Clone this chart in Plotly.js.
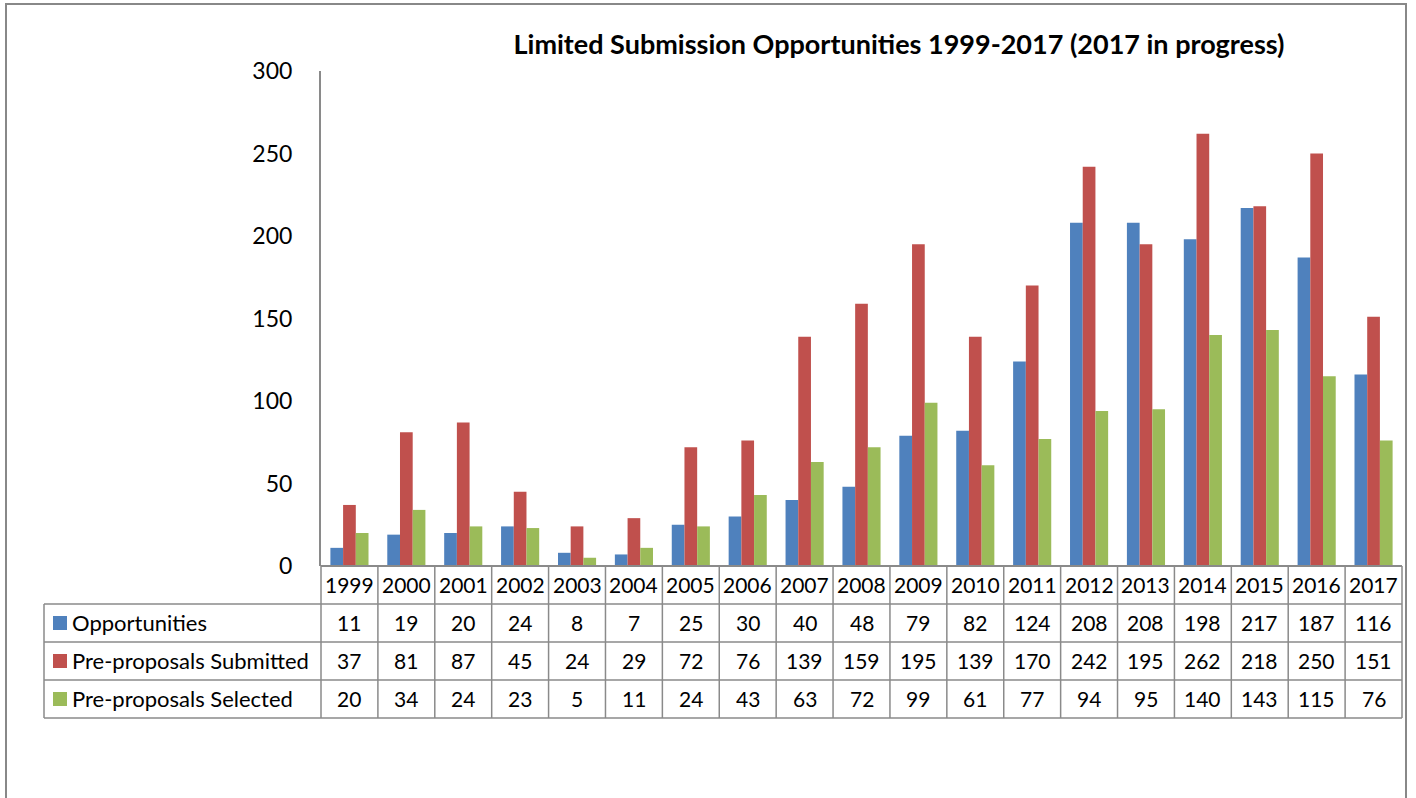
<!DOCTYPE html>
<html><head><meta charset="utf-8">
<script src="https://cdn.plot.ly/plotly-3.0.1.min.js"></script>
<style>html,body{margin:0;padding:0;background:#fff;}#chart{width:1416px;height:798px;}</style>
</head><body><div id="chart"></div>
<script>
const years = ['1999','2000','2001','2002','2003','2004','2005','2006','2007','2008','2009','2010','2011','2012','2013','2014','2015','2016','2017'];
const opportunities = [11,19,20,24,8,7,25,30,40,48,79,82,124,208,208,198,217,187,116];
const submitted = [37,81,87,45,24,29,72,76,139,159,195,139,170,242,195,262,218,250,151];
const selected = [20,34,24,23,5,11,24,43,63,72,99,61,77,94,95,140,143,115,76];
const seriesNames = ['Opportunities','Pre-proposals Submitted','Pre-proposals Selected'];
const seriesColors = ['#4F81BD','#C0504D','#9BBB59'];
const seriesData = [opportunities, submitted, selected];

const FONT = 'Lato, "Open Sans", sans-serif';
const L = 321, R = 1402, T = 71, B = 566;
const W = R - L, H = B - T;
const px = x => (x - L) / W;
const py = y => (B - y) / H;
const GRID = '#8a8a8a';
const rowH = 38;
const rowTops = [B, B + rowH, B + 2*rowH, B + 3*rowH, B + 4*rowH];
const n = years.length;
const colX = i => (i + 0.5) / n;

const traces = seriesData.map((vals, i) => ({
  type: 'bar', x: years, y: vals, name: seriesNames[i],
  marker: {color: seriesColors[i], line: {width: 0}},
  hoverinfo: 'x+y+name'
}));

const shapes = [];
const annotations = [];
function line(x0, y0, x1, y1, w) {
  shapes.push({type: 'line', xref: 'paper', yref: 'paper', x0: px(x0), y0: py(y0), x1: px(x1), y1: py(y1),
    line: {color: GRID, width: w || 1.5}});
}
// outer border
shapes.push({type: 'rect', xref: 'paper', yref: 'paper', x0: px(6), y0: py(4), x1: px(1406), y1: py(830),
  line: {color: '#888888', width: 2}, fillcolor: 'rgba(0,0,0,0)'});
// table horizontals
line(L, rowTops[0], R, rowTops[0], 2);
for (let k = 1; k < rowTops.length; k++) line(44, rowTops[k], R, rowTops[k]);
// table verticals
for (let k = 0; k <= n; k++) {
  const x = L + k * W / n;
  line(x, rowTops[0], x, rowTops[4]);
}
line(44, rowTops[1], 44, rowTops[4]);

const cellFont = {family: FONT, size: 21, color: '#000'};
// year labels
years.forEach((yr, i) => {
  annotations.push({xref: 'paper', yref: 'paper', x: colX(i), y: py(rowTops[0] + rowH/2 - 1), text: yr,
    showarrow: false, xanchor: 'center', yanchor: 'middle', font: cellFont});
});
// data rows
seriesData.forEach((vals, r) => {
  const cy = rowTops[r+1] + rowH/2 - 1;
  vals.forEach((v, i) => {
    annotations.push({xref: 'paper', yref: 'paper', x: colX(i), y: py(cy), text: String(v),
      showarrow: false, xanchor: 'center', yanchor: 'middle', font: cellFont});
  });
  shapes.push({type: 'rect', xref: 'paper', yref: 'paper', x0: px(53), x1: px(67), y0: py(cy - 6), y1: py(cy + 8),
    line: {width: 0}, fillcolor: seriesColors[r]});
  annotations.push({xref: 'paper', yref: 'paper', x: px(70), y: py(cy), text: seriesNames[r],
    showarrow: false, xanchor: 'left', yanchor: 'middle', font: {family: FONT, size: 22, color: '#000'}});
});

const layout = {
  width: 1416, height: 798,
  margin: {l: L, r: 1416 - R, t: T, b: 798 - B, pad: 0},
  paper_bgcolor: '#fff', plot_bgcolor: '#fff',
  title: {text: '<b>Limited Submission Opportunities 1999-2017 (2017 in progress)</b>',
    xref: 'container', yref: 'container', x: 899/1416, y: 1 - 45/798, xanchor: 'center', yanchor: 'middle',
    font: {family: FONT, size: 27, color: '#000'}},
  barmode: 'group', bargap: 0.33, bargroupgap: 0,
  showlegend: false,
  xaxis: {type: 'category', showticklabels: false, ticks: '', showgrid: false, zeroline: false, showline: false,
    range: [-0.5, n - 0.5], fixedrange: true},
  yaxis: {range: [0, 300], tickvals: [0,50,100,150,200,250,300], showgrid: false, zeroline: false,
    showline: true, linecolor: GRID, linewidth: 2, ticks: '', ticklabelstandoff: 22,
    tickfont: {family: FONT, size: 23, color: '#000'}, fixedrange: true},
  shapes: shapes, annotations: annotations
};
Plotly.newPlot('chart', traces, layout, {displayModeBar: false, staticPlot: true});
</script></body></html>
